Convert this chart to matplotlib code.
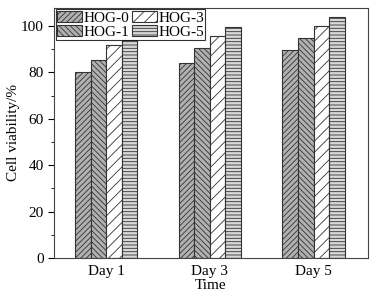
import numpy as np
import matplotlib.pyplot as plt
from matplotlib.ticker import MultipleLocator

plt.rcParams['font.family'] = ['Liberation Serif', 'DejaVu Serif']
plt.rcParams['hatch.linewidth'] = 0.6

days = ["Day 1", "Day 3", "Day 5"]
groups = ["HOG-0", "HOG-1", "HOG-3", "HOG-5"]
hog0 = [80.0, 84.0, 89.8]
hog1 = [85.4, 90.4, 94.7]
hog3 = [91.7, 95.8, 100.2]
hog5 = [93.8, 99.8, 104.0]

fills = ["#b0b0b0", "#b0b0b0", "white", "#d8d8d8"]
hatches = ["//////", "\\\\\\\\\\\\", "///", "-----"]

fig, ax = plt.subplots(figsize=(3.75, 3.0), dpi=100)

x = np.arange(len(days))
w = 0.15
for i, (name, vals) in enumerate(zip(groups, [hog0, hog1, hog3, hog5])):
    ax.bar(x + (i - 1.5) * w, vals, w, color=fills[i], hatch=hatches[i],
           edgecolor="#333333", linewidth=0.8, label=name)

ax.set_xlim(-0.5, 2.52)
ax.set_ylim(0, 108)
ax.set_xticks(x)
ax.set_xticklabels(days)
ax.yaxis.set_major_locator(MultipleLocator(20))
ax.yaxis.set_minor_locator(MultipleLocator(10))
ax.tick_params(axis="x", length=0, labelsize=11, pad=5)
ax.tick_params(axis="y", which="major", length=4, labelsize=11)
ax.tick_params(axis="y", which="minor", length=2)
for s in ax.spines.values():
    s.set_color("#444444")

ax.set_xlabel("Time", fontsize=11, labelpad=1)
ax.set_ylabel("Cell viability/%", fontsize=11, labelpad=1)

leg = ax.legend(ncol=2, loc="upper left", fontsize=11, frameon=True, fancybox=False,
                edgecolor="black", handlelength=1.6, handleheight=0.8,
                handletextpad=0.1, columnspacing=0.2, labelspacing=0.0,
                borderpad=0.1, borderaxespad=0.1)
leg.get_frame().set_linewidth(0.8)

fig.subplots_adjust(left=0.145, right=0.98, top=0.975, bottom=0.14)
fig.savefig("out.png", dpi=100)
